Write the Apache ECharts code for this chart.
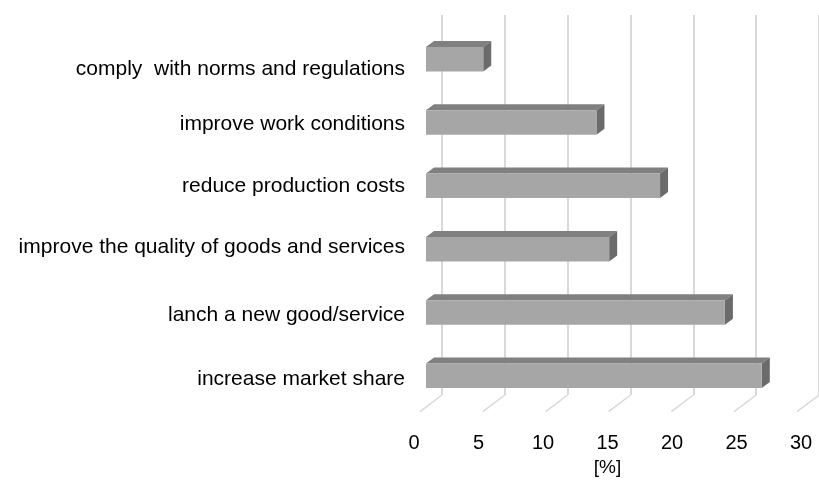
<!DOCTYPE html>
<html>
<head>
<meta charset="utf-8">
<script src="https://cdn.jsdelivr.net/npm/echarts@6/dist/echarts.min.js"></script>
<style>
  html, body { margin: 0; padding: 0; background: #fff; }
  #chart { width: 819px; height: 482px; }
</style>
</head>
<body>
<div id="chart"></div>
<script>
// Reasons given for innovating, share of answers in percent
const categories = [
  'comply  with norms and regulations',
  'improve work conditions',
  'reduce production costs',
  'improve the quality of goods and services',
  'lanch a new good/service',
  'increase market share'
];
const shares = [4.5, 13.4, 18.4, 14.4, 23.5, 26.4];
const tickValues = [0, 5, 10, 15, 20, 25, 30];

// oblique "3D" look: depth offset of the bars and of the floor
const BAR_DEPTH = [8, -6];
const FLOOR_DEPTH = [-22, 16.7];
const BAR_THICK = 24.5;
// category labels: gap to the bar start and small vertical shifts (px, positive = down)
const LABEL_GAP = 21;
const labelNudge = [10, 2, 0, -2, 3, 3];

const chart = echarts.init(document.getElementById('chart'), null, { renderer: 'canvas' });

const option = {
  animation: false,
  backgroundColor: '#ffffff',
  textStyle: { fontFamily: 'Liberation Sans, Arial, sans-serif', color: '#000' },
  grid: [
    // back wall with vertical gridlines
    { left: 442, top: 15, width: 381.6, height: 380 },
    // front plane carrying the value labels
    { left: 414, top: 15, width: 387, height: 415 },
    // plane of the bars
    { left: 426, top: 27.5, width: 381.6, height: 380 }
  ],
  xAxis: [
    {
      gridIndex: 0, type: 'value', min: 0, max: 30, interval: 5,
      axisLine: { show: false }, axisTick: { show: false }, axisLabel: { show: false },
      splitLine: { show: true, lineStyle: { color: '#d9d9d9', width: 2 } }
    },
    {
      gridIndex: 1, type: 'value', min: 0, max: 30, interval: 5,
      axisLine: { show: false }, axisTick: { show: false }, splitLine: { show: false },
      axisLabel: { fontSize: 20, color: '#000', margin: 10 },
      name: '[%]', nameLocation: 'middle', nameGap: 33,
      nameTextStyle: { fontSize: 19, color: '#000' }
    },
    { gridIndex: 2, type: 'value', min: 0, max: 30, interval: 5, show: false }
  ],
  yAxis: [
    { gridIndex: 0, type: 'value', min: 0, max: 1, show: false },
    { gridIndex: 1, type: 'value', min: 0, max: 1, show: false },
    {
      gridIndex: 2, type: 'category', data: categories, inverse: true,
      axisLine: { show: false }, axisTick: { show: false }, splitLine: { show: false },
      axisLabel: { show: false }
    }
  ],
  series: [
    {
      // floor lines running from the wall gridlines towards the viewer
      type: 'custom',
      xAxisIndex: 0, yAxisIndex: 0,
      silent: true,
      data: tickValues.map(v => [v, 0]),
      renderItem: function (params, api) {
        const p = api.coord([api.value(0), 0]);
        return {
          type: 'line',
          shape: { x1: p[0], y1: p[1], x2: p[0] + FLOOR_DEPTH[0], y2: p[1] + FLOOR_DEPTH[1] },
          style: { stroke: '#d9d9d9', lineWidth: 1.5 }
        };
      }
    },
    {
      // prism-shaped bars: front, top and right faces
      type: 'custom',
      xAxisIndex: 2, yAxisIndex: 2,
      data: shares.map((v, i) => [v, i]),
      renderItem: function (params, api) {
        const idx = api.value(1);
        const start = api.coord([0, idx]);
        const end = api.coord([api.value(0), idx]);
        const x0 = start[0], x1 = end[0];
        const yT = start[1] - BAR_THICK / 2, yB = start[1] + BAR_THICK / 2;
        const dx = BAR_DEPTH[0], dy = BAR_DEPTH[1];
        return {
          type: 'group',
          children: [
            {
              type: 'polygon',
              shape: { points: [[x0, yT], [x0 + dx, yT + dy], [x1 + dx, yT + dy], [x1, yT]] },
              style: { fill: '#808080' }
            },
            {
              type: 'polygon',
              shape: { points: [[x1, yT], [x1 + dx, yT + dy], [x1 + dx, yB + dy], [x1, yB]] },
              style: { fill: '#6b6b6b' }
            },
            {
              type: 'rect',
              shape: { x: x0, y: yT, width: x1 - x0, height: BAR_THICK },
              style: { fill: '#a6a6a6' }
            }
          ]
        };
      }
    },
    {
      // category names, placed on the category scale left of the bars
      type: 'custom',
      xAxisIndex: 2, yAxisIndex: 2,
      silent: true,
      data: categories.map((c, i) => [0, i]),
      renderItem: function (params, api) {
        const idx = api.value(1);
        const p = api.coord([0, idx]);
        return {
          type: 'text',
          x: p[0] - LABEL_GAP,
          y: p[1] + labelNudge[idx],
          style: {
            text: categories[idx],
            fill: '#000',
            fontSize: 21,
            fontFamily: 'Liberation Sans, Arial, sans-serif',
            align: 'right',
            verticalAlign: 'middle'
          }
        };
      }
    }
  ]
};

chart.setOption(option);
</script>
</body>
</html>
